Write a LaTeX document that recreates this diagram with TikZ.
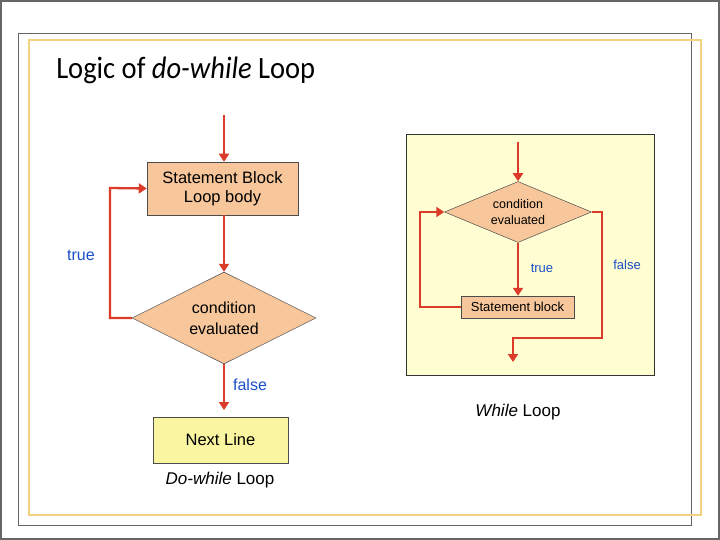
\documentclass[tikz,border=0pt]{standalone}
\usepackage{fontspec}
\setmainfont{Liberation Sans}
\newfontfamily\titlefont{Carlito}
\usetikzlibrary{shapes.geometric,arrows.meta}
\definecolor{peach}{HTML}{F7C79B}
\definecolor{lyellow}{HTML}{FAF5A0}
\definecolor{panel}{HTML}{FFFDD2}
\definecolor{arr}{HTML}{DD3B2A}
\definecolor{lblue}{HTML}{1A4FC8}
\definecolor{gold}{HTML}{F2D27E}
\begin{document}
\begin{tikzpicture}[x=1pt,y=-1pt,
  flow/.style={draw=arr,line width=2.3pt,-{Triangle[length=8pt,width=10pt]}},
  box/.style={draw=black!70,line width=0.5pt,fill=peach,font=\fontsize{16.5}{19}\selectfont,align=center,inner sep=0pt},
  lbl/.style={text=lblue,font=\fontsize{16}{19}\selectfont},
  captxt/.style={font=\fontsize{17}{20}\selectfont}]
\useasboundingbox (0,0) rectangle (720,540);
\draw[black!60,line width=1.5pt] (1,1) rectangle (719,539);
\draw[black!60,line width=0.8pt] (18,33) rectangle (691,525);
\draw[gold,line width=1.2pt] (29,40) rectangle (701,515);
\node[anchor=west,font=\titlefont\fontsize{31}{36}\selectfont,xscale=0.92] (title) at (53,70) {Logic of \textit{do-while} Loop};
% left chart
\coordinate (ls) at (224,115);
\node[box,minimum width=151pt,minimum height=53pt] (sb) at (222.5,188.5) {Statement Block\\Loop body};
\draw[flow] (ls) -- (ls |- sb.north);
\node[draw=black!70,line width=0.5pt,fill=peach,inner sep=0pt,minimum width=184pt,minimum height=92pt,diamond] (cd) at (224,318) {};
\node[font=\fontsize{16}{21}\selectfont,align=center] (cdt) at (224,318) {condition\\evaluated};
\draw[flow] (ls |- sb.south) -- (cd.north);
\draw[flow] (cd.west) -- (110,318) -- (110,188) -- (sb.west);
\node[lbl] (t1) at (81,255) {true};
\node[box,fill=lyellow,minimum width=135pt,minimum height=46pt] (nl) at (220.5,440) {Next Line};
\draw[flow] (cd.south) -- (224,410);
\node[lbl] (f1) at (250,385) {false};
\node[captxt] (c1) at (220,480) {\textit{Do-while} Loop};
% right chart
\node[draw=black!80,line width=0.6pt,fill=panel,minimum width=248pt,minimum height=241pt,inner sep=0pt] (pn) at (530,254.5) {};
\coordinate (rs) at (518,142);
\node[draw=black!70,line width=0.5pt,fill=peach,inner sep=0pt,minimum width=147pt,minimum height=61pt,diamond] (rd) at (518,212) {};
\node[font=\fontsize{12.5}{16}\selectfont,align=center] (rdt) at (518,212) {condition\\evaluated};
\draw[flow] (rs) -- (rd.north);
\node[box,font=\fontsize{13}{15}\selectfont,minimum width=113pt,minimum height=22pt] (st) at (517.5,307) {Statement block};
\draw[flow] (rd.south) -- (rd.south |- st.north);
\draw[flow] (st.west) -- (420,307) -- (420,212) -- (rd.west);
\coordinate (re) at (513,362);
\draw[flow] (rd.east) -- (602,212) -- (602,338) -- (513,338) -- (re);
\node[lbl,font=\fontsize{13}{15}\selectfont] (t2) at (542,268) {true};
\node[lbl,font=\fontsize{13}{15}\selectfont] (f2) at (627,265) {false};
\node[captxt] (c2) at (518,412) {\textit{While} Loop};
\end{tikzpicture}
\end{document}
